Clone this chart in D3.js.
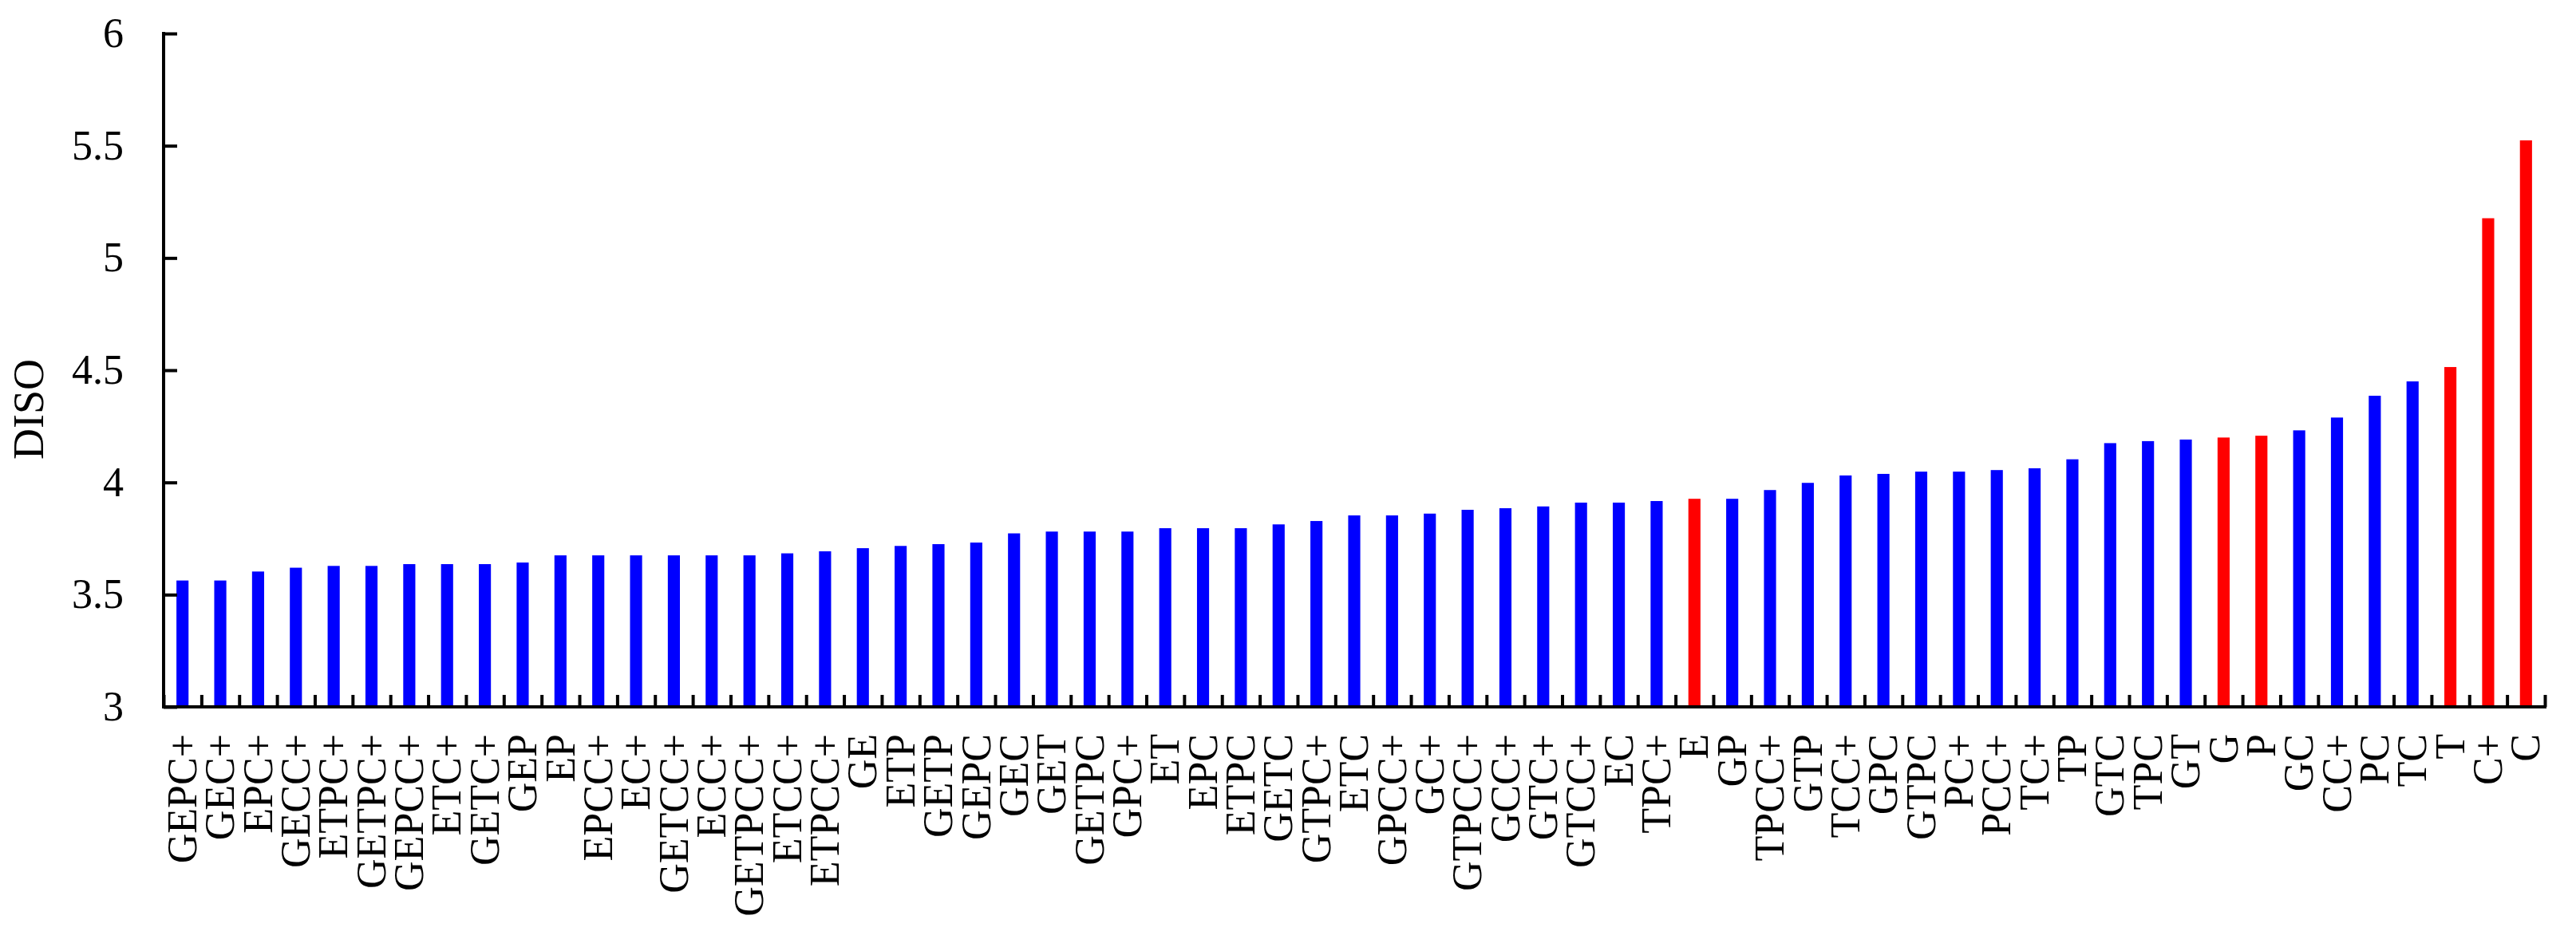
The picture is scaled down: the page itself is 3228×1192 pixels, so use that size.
<!DOCTYPE html>
<html>
<head>
<meta charset="utf-8">
<script src="https://cdn.jsdelivr.net/npm/d3@7"></script>
<style>
  html, body { margin: 0; padding: 0; background: #fff; }
  svg { display: block; }
  text { font-family: "Times New Roman", "Liberation Serif", serif; fill: #000; }
</style>
</head>
<body>
<svg id="chart" width="3228" height="1192"></svg>
<script>
const categories = ["GEPC+","GEC+","EPC+","GECC+","ETPC+","GETPC+","GEPCC+","ETC+","GETC+","GEP",
  "EP","EPCC+","EC+","GETCC+","ECC+","GETPCC+","ETCC+","ETPCC+","GE","ETP",
  "GETP","GEPC","GEC","GET","GETPC","GPC+","ET","EPC","ETPC","GETC",
  "GTPC+","ETC","GPCC+","GC+","GTPCC+","GCC+","GTC+","GTCC+","EC","TPC+",
  "E","GP","TPCC+","GTP","TCC+","GPC","GTPC","PC+","PCC+","TC+",
  "TP","GTC","TPC","GT","G","P","GC","CC+","PC","TC",
  "T","C+","C"];
const values = [3.563,3.563,3.603,3.620,3.628,3.628,3.636,3.636,3.636,3.643,
  3.675,3.675,3.675,3.675,3.675,3.675,3.684,3.693,3.707,3.717,
  3.725,3.732,3.773,3.781,3.781,3.781,3.796,3.796,3.796,3.813,
  3.828,3.853,3.853,3.861,3.878,3.885,3.893,3.910,3.910,3.917,
  3.927,3.927,3.966,3.998,4.031,4.038,4.048,4.048,4.055,4.063,
  4.103,4.175,4.184,4.191,4.200,4.208,4.232,4.289,4.386,4.450,
  4.514,5.177,5.524];
const highlighted = ["E","G","P","T","C+","C"];
const yTicks = [3, 3.5, 4, 4.5, 5, 5.5, 6];
const yLabel = "DISO";

const svg = d3.select("#chart");
const mLeft = 205, mRight = 3189, mTop = 42, mBottom = 886;

const pad = 0.68;
const x = d3.scaleBand().domain(categories).range([mLeft, mRight])
  .paddingInner(pad).paddingOuter(pad / 2);
const xi = d3.scaleLinear().domain([0, categories.length]).range([mLeft, mRight]);
const y = d3.scaleLinear().domain([3, 6]).range([mBottom, mTop]);

// bars
svg.append("g").selectAll("rect").data(categories).join("rect")
  .attr("x", d => x(d))
  .attr("width", x.bandwidth())
  .attr("y", (d, i) => y(values[i]))
  .attr("height", (d, i) => y(3) - y(values[i]))
  .attr("fill", d => highlighted.includes(d) ? "#ff0000" : "#0000ff");

// x boundary ticks (inward)
const xTickAxis = d3.axisBottom(xi).tickValues(d3.range(0, categories.length + 1))
  .tickSizeInner(-15).tickSizeOuter(0).tickFormat("");
const gxt = svg.append("g").attr("transform", `translate(0,${mBottom})`).call(xTickAxis);
gxt.selectAll("line").attr("stroke", "#000").attr("stroke-width", 4);
gxt.select(".domain").attr("stroke", "#000").attr("stroke-width", 4).attr("d", `M${mLeft - 2},0H${mRight + 2}`);

// x labels
const xLabAxis = d3.axisBottom(x).tickSize(0).tickPadding(0);
const gxl = svg.append("g").attr("transform", `translate(0,${mBottom})`).call(xLabAxis);
gxl.select(".domain").remove();
gxl.selectAll("text")
  .attr("font-family", "'Times New Roman', 'Liberation Serif', serif")
  .attr("font-size", 52)
  .attr("fill", "#000")
  .attr("text-anchor", "end")
  .attr("transform", "rotate(-90)")
  .attr("x", -34)
  .attr("y", 0)
  .attr("dy", "0.33em");

// y axis
const yAxis = d3.axisLeft(y).tickValues(yTicks).tickSizeInner(-17).tickSizeOuter(0)
  .tickPadding(50).tickFormat(d => String(d));
const gy = svg.append("g").attr("transform", `translate(${mLeft},0)`).call(yAxis);
gy.select(".domain").attr("stroke", "#000").attr("stroke-width", 4).attr("d", `M0,${mBottom + 2}V${mTop - 2}`);
gy.selectAll("line").attr("stroke", "#000").attr("stroke-width", 4);
gy.selectAll("text")
  .attr("font-family", "'Times New Roman', 'Liberation Serif', serif")
  .attr("font-size", 52)
  .attr("fill", "#000");

svg.append("text")
  .attr("transform", `translate(54,513) rotate(-90)`)
  .attr("text-anchor", "middle")
  .attr("font-size", 54)
  .text(yLabel);
</script>
</body>
</html>
